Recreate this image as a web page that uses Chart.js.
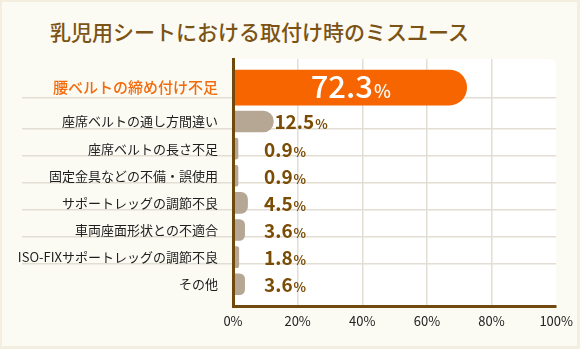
<!DOCTYPE html>
<html><head><meta charset="utf-8">
<script src="https://cdn.jsdelivr.net/npm/chart.js@4.4.0/dist/chart.umd.min.js"></script>
<style>
html,body{margin:0;padding:0;background:#f3eee0;}
#wrap{position:relative;width:580px;height:349px;overflow:hidden;background:#f3eee0;}
#panel{position:absolute;left:2px;top:2px;width:575px;height:344px;background:#fbfaf3;}
#title{position:absolute;left:50px;top:19px;font-family:'Noto Sans CJK JP',sans-serif;font-size:21px;font-weight:500;line-height:24px;color:#7b5314;white-space:nowrap;}
canvas{position:absolute;left:0;top:0;}
</style></head><body>
<div id="wrap"><div id="panel"></div><div id="title">乳児用シートにおける取付け時のミスユース</div><canvas id="c" width="580" height="349"></canvas></div>
<script>
// ---- data ----
const categories = [
  '腰ベルトの締め付け不足',
  '座席ベルトの通し方間違い',
  '座席ベルトの長さ不足',
  '固定金具などの不備・誤使用',
  'サポートレッグの調節不良',
  '車両座面形状との不適合',
  'ISO-FIXサポートレッグの調節不良',
  'その他'
];
const values = [72.3, 12.5, 0.9, 0.9, 4.5, 3.6, 1.8, 3.6];
const xTickValues = [0, 20, 40, 60, 80, 100];
const highlightIndex = 0;

// ---- layout helpers (row slots on the category axis; highlighted row is taller) ----
const FONT = "'Noto Sans CJK JP', sans-serif";
const rowSlots = categories.map((_, i) => i === highlightIndex ? 3 : 2);
const rowCenters = [], rowBounds = [];
let acc = 0;
rowSlots.forEach((s, i) => { rowCenters.push(acc + s / 2); acc += s; if (i < rowSlots.length - 1) rowBounds.push(acc); });
const totalSlots = acc;
const centerLabel = new Map(rowCenters.map((c, i) => [c, categories[i]]));

const hiData = [], restData = [];
values.forEach((v, i) => (i === highlightIndex ? hiData : restData).push({ x: v, y: rowCenters[i] }));

const BROWN = '#6f4a0c';
const GRID = '#e3ded3';

const plotBg = {
  id: 'plotBg',
  beforeDraw(chart) {
    const { ctx, chartArea: a } = chart;
    ctx.save();
    ctx.fillStyle = '#ffffff';
    ctx.beginPath();
    if (ctx.roundRect) ctx.roundRect(a.left, a.top, a.right - a.left, a.bottom - a.top, [0, 6, 0, 0]);
    else ctx.rect(a.left, a.top, a.right - a.left, a.bottom - a.top);
    ctx.fill();
    ctx.restore();
  }
};

const valueLabels = {
  id: 'valueLabels',
  afterDatasetsDraw(chart) {
    const ctx = chart.ctx;
    const x0 = chart.scales.x.getPixelForValue(0);
    chart.data.datasets.forEach((ds, di) => {
      const meta = chart.getDatasetMeta(di);
      meta.data.forEach((bar, i) => {
        const num = ds.data[i].x.toFixed(1);
        ctx.save();
        ctx.textBaseline = 'alphabetic';
        ctx.textAlign = 'left';
        if (ds.highlight) {
          ctx.fillStyle = '#ffffff';
          ctx.font = '500 31px ' + FONT;
          const w1 = ctx.measureText(num).width;
          ctx.font = '500 18px ' + FONT;
          const w2 = ctx.measureText('%').width;
          const start = (bar.base + bar.x) / 2 - (w1 + w2) / 2;
          const by = bar.y + 10;
          ctx.font = '500 31px ' + FONT;
          ctx.fillText(num, start, by);
          ctx.font = '500 18px ' + FONT;
          ctx.fillText('%', start + w1 + 1, by);
        } else {
          ctx.fillStyle = '#7a4c05';
          const start = Math.max(bar.x + 1, x0 + 31);
          const by = bar.y + 8;
          ctx.font = 'bold 19px ' + FONT;
          const w1 = ctx.measureText(num).width;
          ctx.fillText(num, start, by);
          ctx.font = 'bold 13px ' + FONT;
          ctx.fillText('%', start + w1 + 1, by);
        }
        ctx.restore();
      });
    });
  }
};

new Chart(document.getElementById('c'), {
  type: 'bar',
  data: {
    datasets: [
      { data: hiData, highlight: true, backgroundColor: '#f76500', barThickness: 35, borderRadius: 17.5, borderSkipped: 'start' },
      { data: restData, highlight: false, backgroundColor: '#b6a794', barThickness: 21, borderRadius: 10.5, borderSkipped: 'start', minBarLength: 5 }
    ]
  },
  options: {
    indexAxis: 'y',
    responsive: false,
    animation: false,
    events: [],
    layout: { padding: { top: 59, right: 22, left: 0, bottom: 0 } },
    datasets: { bar: { grouped: false } },
    plugins: { legend: { display: false }, tooltip: { enabled: false }, title: { display: false } },
    scales: {
      x: {
        type: 'linear', min: 0, max: 100, position: 'bottom',
        afterBuildTicks: s => { s.ticks = xTickValues.map(v => ({ value: v })); },
        afterFit: s => { s.height = 43; },
        ticks: {
          callback: v => v + '%',
          color: '#222222',
          font: { family: FONT, size: 13 },
          padding: 7,
          maxRotation: 0
        },
        grid: {
          color: c => (c.tick && (c.tick.value === 0 || c.tick.value === 100)) ? 'rgba(0,0,0,0)' : GRID,
          lineWidth: 1.5,
          drawTicks: false
        },
        border: { display: true, color: BROWN, width: 3, z: 1 }
      },
      y: {
        type: 'linear', reverse: true, min: 0, max: totalSlots, position: 'left',
        afterBuildTicks: s => {
          s.ticks = [...rowCenters, ...rowBounds].sort((a, b) => a - b).map(v => ({ value: v }));
        },
        afterFit: s => { s.width = 233; },
        ticks: {
          autoSkip: false,
          callback: v => centerLabel.has(v) ? centerLabel.get(v) : '',
          color: c => (c.tick && c.tick.value === rowCenters[highlightIndex]) ? '#f26b0c' : '#1e1e1e',
          font: c => (c.tick && c.tick.value === rowCenters[highlightIndex])
            ? { family: FONT, size: 15, weight: '500' }
            : { family: FONT, size: 13 },
          padding: -196
        },
        grid: {
          color: c => (c.tick && rowBounds.includes(c.tick.value)) ? GRID : 'rgba(0,0,0,0)',
          lineWidth: 1.5,
          drawTicks: true,
          tickLength: 211
        },
        border: { display: true, color: BROWN, width: 3, z: 1 }
      }
    }
  },
  plugins: [plotBg, valueLabels]
});
</script>
</body></html>
